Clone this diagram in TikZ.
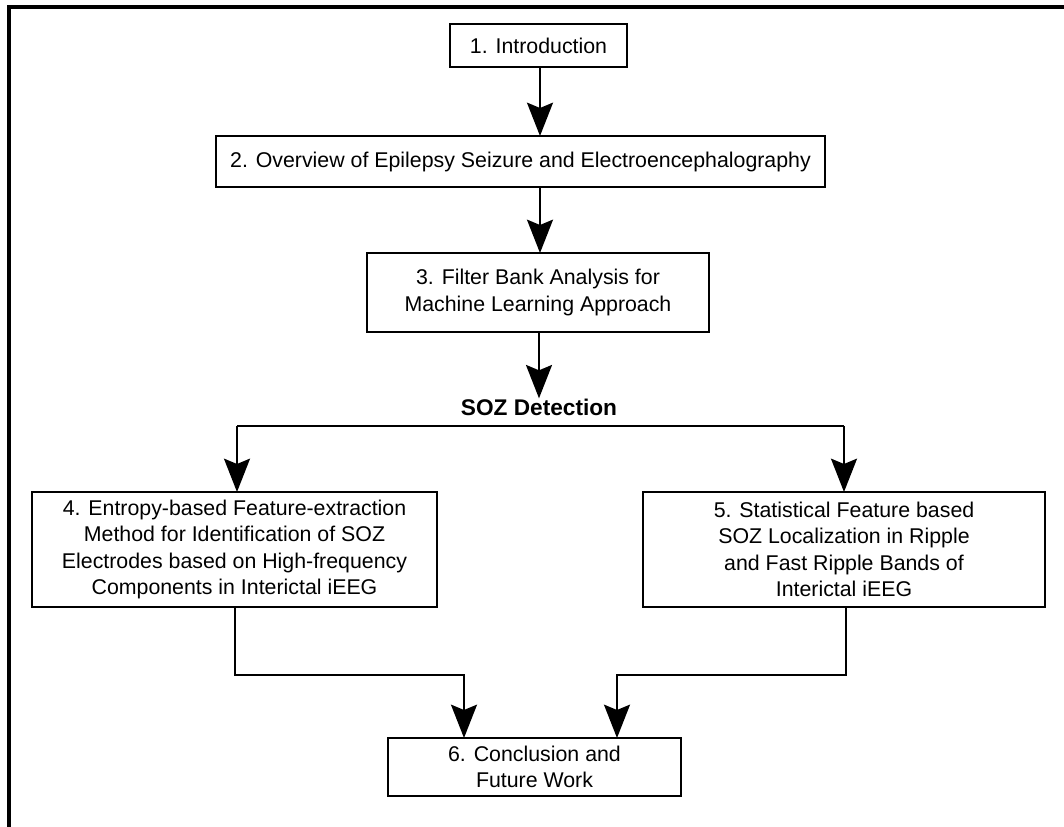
\documentclass[tikz,border=0pt]{standalone}
\usepackage{fontspec}
\setmainfont{Liberation Sans}
\usetikzlibrary{arrows.meta}
\begin{document}
\begin{tikzpicture}[x=0.75pt,y=-0.75pt,
  box/.style={draw,line width=1.7pt,inner sep=0pt,outer sep=0pt,align=center,
    font=\fontsize{16}{19.7}\selectfont},
  conn/.style={line width=1.6pt},
  arr/.style={conn,-{Stealth[length=25pt,width=19.5pt,inset=4pt]}},
  frameline/.style={line width=2.3pt}]
\useasboundingbox (0,0) rectangle (1064,827);
% frame (cropped: top and left edges)
\draw[frameline] (9,827) -- (9,7) -- (1064,7);
% boxes
\node[box,minimum width=132.75pt,minimum height=32.25pt] (n1) at (538.5,45.5) {1. Introduction};
\node[box,minimum width=456.75pt,minimum height=38.25pt] (n2) at (520.5,161.5) {2. Overview of Epilepsy Seizure and Electroencephalography};
\node[box,minimum width=256.5pt,minimum height=59.25pt] (n3) at (538,292.5) {3. Filter Bank Analysis for\\Machine Learning Approach};
\node[inner sep=0pt,anchor=base,font=\fontsize{17}{20}\selectfont\bfseries] (soz) at (539,415) {SOZ Detection};
\node[box,minimum width=303.75pt,minimum height=86.25pt] (n4) at (234.5,549.5) {4. Entropy-based Feature-extraction\\Method for Identification of SOZ\\Electrodes based on High-frequency\\Components in Interictal iEEG};
\node[box,minimum width=301.5pt,minimum height=86.25pt] (n5) at (844,549.5) {5. Statistical Feature based\\SOZ Localization in Ripple\\and Fast Ripple Bands of\\Interictal iEEG};
\node[box,minimum width=219.75pt,minimum height=43.5pt] (n6) at (534.5,767) {6. Conclusion and\\Future Work};
% junction coordinates
\coordinate (hl) at (237,426);
\coordinate (hr) at (844,426);
\coordinate (bl) at (235,675);
\coordinate (blr) at (464,675);
\coordinate (br) at (846,675);
\coordinate (brl) at (617,675);
% connectors
\draw[arr] (n1.south -| 540,0) -- (n2.north -| 540,0);
\draw[arr] (n2.south -| 540,0) -- (n3.north -| 540,0);
\draw[arr] (n3.south -| 539,0) -- (soz.north);
\draw[conn] (hl) -- (hr);
\draw[arr] (hl) -- (hl |- n4.north);
\draw[arr] (hr) -- (hr |- n5.north);
\draw[arr] (bl |- n4.south) -- (bl) -- (blr) -- (blr |- n6.north);
\draw[arr] (br |- n5.south) -- (br) -- (brl) -- (brl |- n6.north);
\end{tikzpicture}
\end{document}
